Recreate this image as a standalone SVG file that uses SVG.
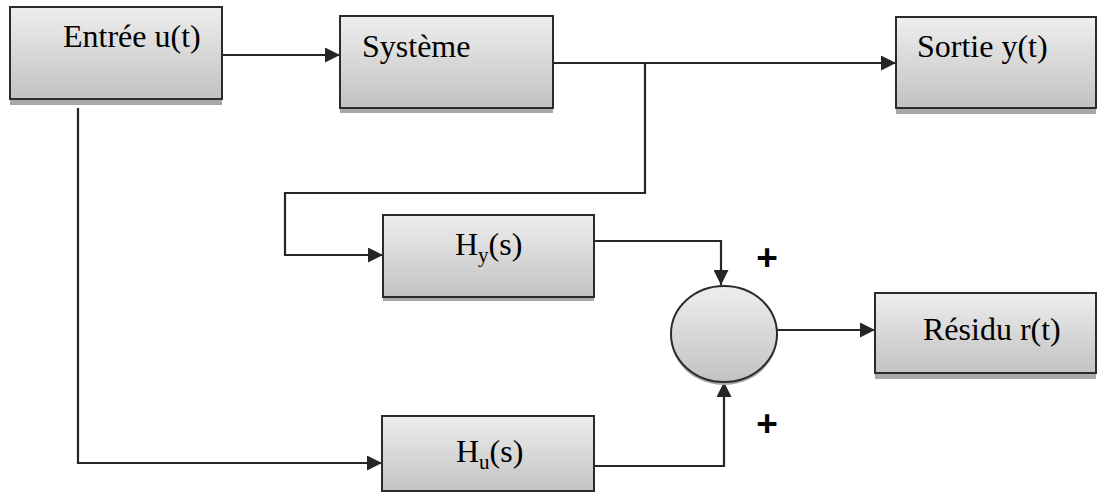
<svg xmlns="http://www.w3.org/2000/svg" width="1099" height="492" viewBox="0 0 1099 492">
  <style>
    .box { fill: url(#boxFill); stroke: #2b2b2b; stroke-width: 2; }
    .shadow { fill: #a8a8a8; }
    .lbl { font-family: "Liberation Serif", "Times New Roman", serif; font-size: 32px; fill: #000; }
    .sub { font-size: 21px; }
    .sign { font-family: "Liberation Sans", Arial, sans-serif; font-weight: bold; font-size: 37px; fill: #000; text-anchor: middle; }
    .wire { fill: none; stroke: #262626; stroke-width: 2.2; }
  </style>
  <defs>
    <linearGradient id="boxFill" x1="0" y1="0" x2="0" y2="1">
      <stop offset="0" stop-color="#eeeeee"/>
      <stop offset="1" stop-color="#c2c2c2"/>
    </linearGradient>
    <marker id="arrow" viewBox="0 0 15 15" refX="15" refY="7.5" markerWidth="15" markerHeight="15" markerUnits="userSpaceOnUse" orient="auto">
      <path d="M0,0 L15,7.5 L0,15 Z" fill="#262626"/>
    </marker>
  </defs>

  <rect width="1099" height="492" fill="#ffffff"/>

  <!-- connectors -->
  <g id="connectors">
    <path class="wire" d="M222,55 H340" marker-end="url(#arrow)"/>
    <path class="wire" d="M553,63 H896" marker-end="url(#arrow)"/>
    <path class="wire" d="M645,63 V193 H285 V255 H383" marker-end="url(#arrow)"/>
    <path class="wire" d="M594,241 H721 V285" marker-end="url(#arrow)"/>
    <path class="wire" d="M777,330 H875" marker-end="url(#arrow)"/>
    <path class="wire" d="M78,108 V463 H382" marker-end="url(#arrow)"/>
    <path class="wire" d="M594,466 H724 V382" marker-end="url(#arrow)"/>
  </g>

  <!-- input block -->
  <g id="entree">
    <rect class="shadow" x="10" y="10" width="212" height="95"/>
    <rect class="box" x="10" y="7" width="212" height="92"/>
    <text class="lbl" x="63" y="47">Entrée u(t)</text>
  </g>

  <!-- plant -->
  <g id="systeme">
    <rect class="shadow" x="340" y="20" width="213" height="93"/>
    <rect class="box" x="340" y="16" width="213" height="92"/>
    <text class="lbl" x="362" y="57">Système</text>
  </g>

  <!-- output block -->
  <g id="sortie">
    <rect class="shadow" x="896" y="20" width="200" height="94"/>
    <rect class="box" x="896" y="17" width="200" height="91"/>
    <text class="lbl" x="917" y="57">Sortie y(t)</text>
  </g>

  <!-- output filter -->
  <g id="hy">
    <rect class="shadow" x="383" y="219" width="211" height="82"/>
    <rect class="box" x="383" y="215" width="211" height="82"/>
    <text class="lbl" x="455" y="255">H<tspan class="sub" dy="7">y</tspan><tspan dy="-7">(s)</tspan></text>
  </g>

  <!-- input filter -->
  <g id="hu">
    <rect class="box" x="382" y="416" width="212" height="75"/>
    <text class="lbl" x="456" y="462">H<tspan class="sub" dy="7">u</tspan><tspan dy="-7">(s)</tspan></text>
  </g>

  <!-- summing junction -->
  <g id="somme">
    <ellipse cx="724" cy="337" rx="53" ry="48" fill="#a8a8a8"/>
    <ellipse cx="724" cy="334" rx="53" ry="48" fill="url(#boxFill)" stroke="#2b2b2b" stroke-width="2"/>
    <text class="sign" x="767" y="270">+</text>
    <text class="sign" x="767" y="436">+</text>
  </g>

  <!-- residual block -->
  <g id="residu">
    <rect class="shadow" x="875" y="297" width="221" height="82"/>
    <rect class="box" x="875" y="293" width="221" height="80"/>
    <text class="lbl" x="923" y="340">Résidu r(t)</text>
  </g>
</svg>
